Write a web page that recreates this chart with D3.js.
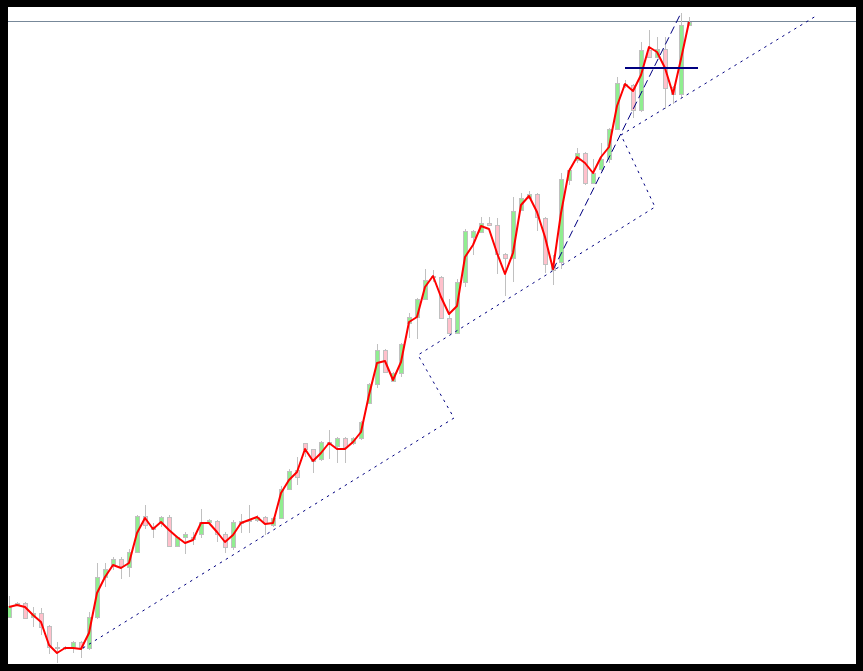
<!DOCTYPE html>
<html>
<head>
<meta charset="utf-8">
<script src="https://cdn.jsdelivr.net/npm/d3@7"></script>
<style>
  html, body { margin: 0; padding: 0; background: #000; }
  svg { display: block; }
</style>
</head>
<body>
<svg id="chart" width="863" height="671"></svg>
<script>
// ---------- DATA (price units, arbitrary scale) ----------
const opens  = [47,59,61,47,51,38,17,16,17,22,16,47,87,99,105,97,112,148,136,141,147,118,127,127,130,142,143,130,117,141,143,144,147,139,146,175,194,221,215,205,222,218,226,221,226,261,280,314,283,291,341,347,365,388,387,346,331,382,427,432,441,439,410,406,454,466,470,446,399,402,484,504,511,481,495,505,535,580,579,554,614,607,615,577,570,639];
const highs  = [68,62,62,57,56,39,22,18,23,23,52,101,101,107,107,115,149,159,141,148,149,128,132,132,155,145,144,132,144,150,159,149,148,147,178,195,207,221,215,223,234,227,227,227,243,281,320,315,292,321,351,366,395,394,388,365,385,435,434,447,447,446,411,467,471,473,471,447,409,491,496,516,512,505,521,536,587,584,580,622,634,627,627,578,651,647];
const lows   = [47,58,45,37,29,10,1,14,11,6,14,45,77,94,85,87,111,135,126,137,117,117,110,119,126,140,122,111,114,131,131,142,129,137,145,174,179,207,191,203,205,201,201,219,224,260,276,291,282,287,326,325,364,382,345,331,330,377,409,431,438,390,368,382,453,465,433,391,379,395,479,501,479,480,493,501,534,576,546,552,606,606,555,560,566,638];
const closes = [58,61,46,51,37,17,16,17,22,16,47,87,95,105,98,112,148,139,135,147,118,127,130,125,142,144,130,117,142,143,144,147,141,146,175,193,187,215,203,222,220,226,217,226,242,280,314,292,291,320,347,365,384,387,346,331,382,433,433,441,439,410,406,453,466,470,447,400,394,485,494,511,481,491,505,535,581,579,554,614,607,615,576,570,639,642];
const redLine = [57,59,57,49,42,19,11,16,16,15,31,71,87,99,96,101,131,146,135,142,134,127,121,124,141,141,132,122,129,141,144,147,140,141,171,184,192,215,203,211,221,215,215,222,232,269,301,303,284,302,342,347,377,388,367,350,358,407,419,438,435,411,390,411,459,468,452,427,395,451,493,507,501,491,507,517,558,580,573,589,617,612,596,570,605,642];

// drawn objects: [index, price]
const channelLine = [[9.25,16],[55.625,246],[51.125,309],[80.75,457],[76.5,529],[100.875,648]];
const dashedLine  = [[68,394],[84,651]];
const levelLine   = [[77,596],[86.125,596]];
const bidPrice    = 643;

// ---------- LAYOUT ----------
const W = 863, H = 671;
const plot = {left: 8, top: 7, right: 856, bottom: 664};
const svg = d3.select("#chart");

svg.append("rect").attr("x",0).attr("y",0).attr("width",W).attr("height",H).attr("fill","#000");
svg.append("rect").attr("x",plot.left).attr("y",plot.top)
   .attr("width",plot.right-plot.left).attr("height",plot.bottom-plot.top).attr("fill","#fff");

svg.append("defs").append("clipPath").attr("id","clip")
   .append("rect").attr("x",plot.left).attr("y",plot.top)
   .attr("width",plot.right-plot.left).attr("height",plot.bottom-plot.top);

const x = d3.scaleLinear().domain([-0.125, 105.875]).range([plot.left, plot.right]);
const y = d3.scaleLinear().domain([0, 657]).range([plot.bottom, plot.top]);

const g = svg.append("g").attr("clip-path","url(#clip)");

const idx = d3.range(closes.length);
const cx = i => Math.round(x(i)) + 0.5;

// bid line
g.append("line")
  .attr("x1",plot.left).attr("x2",plot.right)
  .attr("y1",Math.round(y(bidPrice))+0.5).attr("y2",Math.round(y(bidPrice))+0.5)
  .attr("stroke","#778899").attr("stroke-width",1);

// wicks
g.selectAll("line.wick").data(idx).join("line").attr("class","wick")
  .attr("x1",cx).attr("x2",cx)
  .attr("y1",i => y(highs[i])).attr("y2",i => y(lows[i]))
  .attr("stroke","#C0C0C0").attr("stroke-width",1);

// bodies
g.selectAll("rect.body").data(idx).join("rect").attr("class","body")
  .attr("x",i => cx(i) - 2)
  .attr("width",4)
  .attr("y",i => Math.round(y(Math.max(opens[i],closes[i]))) + 0.5)
  .attr("height",i => Math.max(1, Math.round(Math.abs(y(opens[i]) - y(closes[i])))))
  .attr("fill",i => closes[i] >= opens[i] ? "#90EE90" : "#FFC0CB")
  .attr("stroke","#C0C0C0").attr("stroke-width",1);

// objects
const ln = d3.line().x(d => x(d[0])).y(d => y(d[1]));
g.append("path").datum(channelLine).attr("d",ln)
  .attr("fill","none").attr("stroke","#000080").attr("stroke-width",1)
  .attr("stroke-dasharray","2.5,4.5");
g.append("path").datum(dashedLine).attr("d",ln)
  .attr("fill","none").attr("stroke","#000080").attr("stroke-width",1)
  .attr("stroke-dasharray","8,4");

// red line
g.append("path").datum(idx).attr("d", d3.line().x(i => x(i)).y(i => y(redLine[i])))
  .attr("fill","none").attr("stroke","#FF0000").attr("stroke-width",2)
  .attr("stroke-linejoin","round");

g.append("path").datum(levelLine).attr("d",ln)
  .attr("fill","none").attr("stroke","#000080").attr("stroke-width",2);
</script>
</body>
</html>
